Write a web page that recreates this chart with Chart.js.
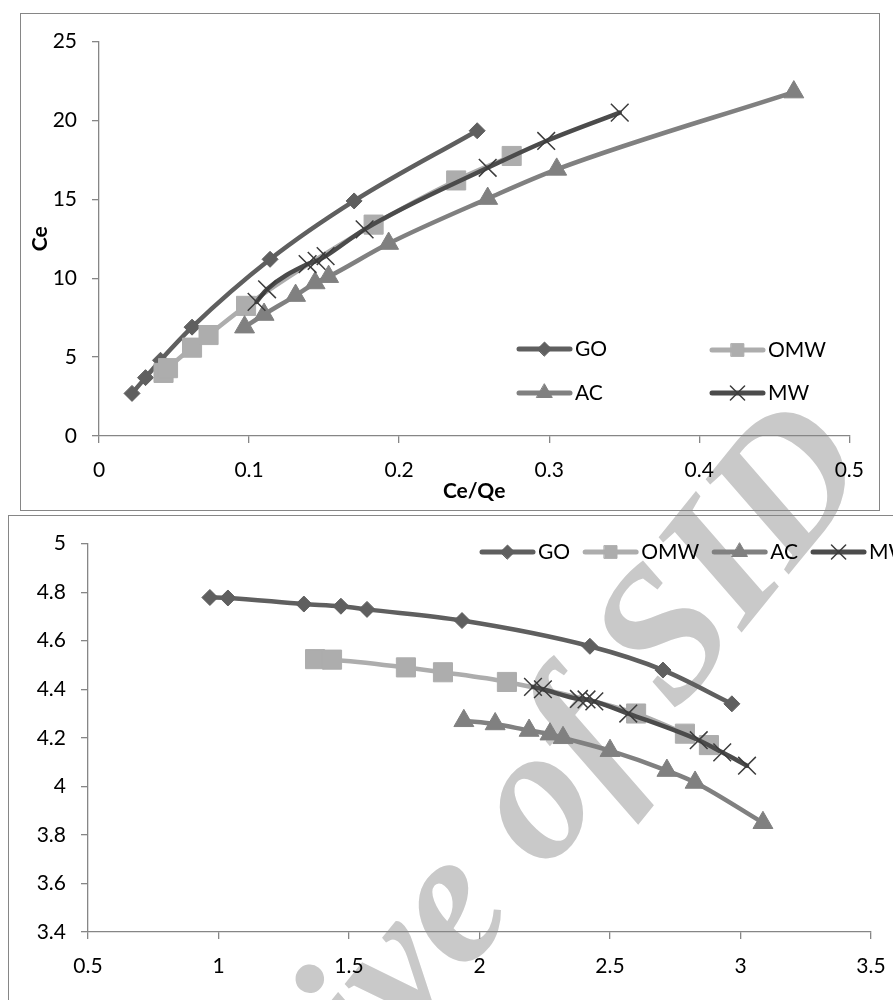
<!DOCTYPE html>
<html>
<head>
<meta charset="utf-8">
<title>Ce vs Ce/Qe</title>
<script src="https://cdn.jsdelivr.net/npm/chart.js@4.4.1/dist/chart.umd.min.js"></script>
<style>
  html, body { margin: 0; padding: 0; background: #fff; width: 893px; height: 1000px; overflow: hidden; position: relative; }
  .mark {
    position: absolute; left: 454px; top: 886px;
    transform: translate(-50%, -50%) rotate(-51deg);
    font: italic bold 190px "Liberation Serif", serif;
    color: #c9c9c9; white-space: nowrap; line-height: 1;
  }
  .box { position: absolute; border: 1px solid #868686; }
  #upperBox { left: 20px; top: 13px; }
  #lowerBox { left: 8px; top: 515px; border-right: none; border-bottom: none; }
  canvas { display: block; }
</style>
</head>
<body>
<div class="mark">Archive of SID</div>
<div class="box" id="upperBox"><canvas id="upper" width="858" height="496"></canvas></div>
<div class="box" id="lowerBox"><canvas id="lower" width="900" height="484"></canvas></div>
<script>
// series names, legend order
const seriesNames = ['GO', 'OMW', 'AC', 'MW'];

// upper panel: Ce/Qe (x) against Ce (y)
const goQ  = [0.022, 0.031, 0.041, 0.062, 0.114, 0.170, 0.252];
const goCe = [2.7, 3.7, 4.8, 6.9, 11.2, 14.9, 19.35];
const omwQ  = [0.043, 0.046, 0.062, 0.073, 0.098, 0.183, 0.238, 0.275];
const omwCe = [4.0, 4.3, 5.6, 6.4, 8.25, 13.4, 16.2, 17.75];
const acQ  = [0.097, 0.110, 0.131, 0.144, 0.153, 0.193, 0.259, 0.305, 0.463];
const acCe = [6.9, 7.7, 8.9, 9.7, 10.1, 12.2, 15.05, 16.9, 21.8];
const mwQ  = [0.105, 0.112, 0.139, 0.145, 0.151, 0.177, 0.259, 0.298, 0.347];
const mwCe = [8.5, 9.3, 10.9, 11.1, 11.4, 13.1, 17.0, 18.7, 20.5];

const upperXTicks = [0, 0.1, 0.2, 0.3, 0.4, 0.5];
const upperYTicks = [0, 5, 10, 15, 20, 25];

// lower panel
const goLx = [0.967, 1.036, 1.327, 1.469, 1.569, 1.933, 2.423, 2.703, 2.967];
const goLy = [4.778, 4.776, 4.751, 4.742, 4.729, 4.683, 4.577, 4.479, 4.34];
const omwLx = [1.37, 1.435, 1.718, 1.86, 2.105, 2.60, 2.787, 2.879];
const omwLy = [4.524, 4.522, 4.49, 4.47, 4.43, 4.30, 4.217, 4.17];
const acLx = [1.94, 2.06, 2.19, 2.27, 2.32, 2.50, 2.718, 2.826, 3.086];
const acLy = [4.27, 4.257, 4.23, 4.215, 4.20, 4.147, 4.065, 4.016, 3.85];
const mwLx = [2.205, 2.243, 2.381, 2.41, 2.44, 2.57, 2.84, 2.93, 3.025];
const mwLy = [4.41, 4.40, 4.36, 4.358, 4.35, 4.30, 4.19, 4.14, 4.085];

const lowerXTicks = [0.5, 1, 1.5, 2, 2.5, 3, 3.5];
const lowerYTicks = [3.4, 3.6, 3.8, 4, 4.2, 4.4, 4.6, 4.8, 5];

// look of each series
const styles = {
  GO:  { color: '#5f5f5f', pointStyle: 'rectRot',  radius: 8,    legendRadius: 7,   order: 3 },
  OMW: { color: '#adadad', pointStyle: 'rect',     radius: 13.5, legendRadius: 9,   order: 2 },
  AC:  { color: '#808080', pointStyle: 'triangle', radius: 11.5, legendRadius: 9,   order: 1 },
  MW:  { color: '#4b4b4b', pointStyle: 'crossRot', radius: 12.5, legendRadius: 10,  order: 0, pointColor: '#3c3c3c' }
};

Chart.defaults.font.family = 'Lato';
Chart.defaults.font.size = 21;
Chart.defaults.color = '#000';

const zip = (xs, ys) => xs.map((x, i) => ({ x: x, y: ys[i] }));

function series(name, xs, ys) {
  const s = styles[name];
  const isCross = s.pointStyle === 'crossRot';
  return {
    label: name,
    data: zip(xs, ys),
    showLine: true,
    borderColor: s.color,
    borderWidth: 4.5,
    borderCapStyle: 'round',
    borderJoinStyle: 'round',
    cubicInterpolationMode: 'monotone',
    pointStyle: s.pointStyle,
    pointRadius: s.radius,
    pointHoverRadius: s.radius,
    pointBackgroundColor: s.color,
    pointBorderColor: isCross ? s.pointColor : s.color,
    pointBorderWidth: isCross ? 1.5 : 1,
    order: s.order
  };
}

// legend drawn at fixed slots, with the same markers as the datasets
const slotLegend = {
  id: 'slotLegend',
  afterDraw(chart, args, opts) {
    const ctx = chart.ctx;
    const lineLen = 55;
    ctx.save();
    ctx.font = '21px Lato';
    ctx.textBaseline = 'middle';
    ctx.textAlign = 'left';
    let cursor = opts.startX;
    seriesNames.forEach((name, i) => {
      const s = styles[name];
      let x, y;
      if (opts.slots) { x = opts.slots[i][0]; y = opts.slots[i][1]; }
      else { x = cursor; y = opts.y; }
      ctx.strokeStyle = s.color;
      ctx.lineWidth = 5;
      ctx.lineCap = 'round';
      ctx.beginPath();
      ctx.moveTo(x + 2, y);
      ctx.lineTo(x + lineLen - 2, y);
      ctx.stroke();
      const isCross = s.pointStyle === 'crossRot';
      ctx.fillStyle = s.color;
      ctx.strokeStyle = isCross ? s.pointColor : s.color;
      ctx.lineWidth = isCross ? 1.5 : 1;
      Chart.helpers.drawPoint(ctx, {
        pointStyle: s.pointStyle, radius: s.legendRadius, rotation: 0, borderWidth: ctx.lineWidth
      }, x + lineLen / 2, y);
      ctx.fillStyle = '#000';
      ctx.fillText(name, x + lineLen + 3, y);
      cursor = x + lineLen + 3 + ctx.measureText(name).width + 13;
    });
    ctx.restore();
  }
};

function axis(ticks, min, max, extra) {
  return Object.assign({
    type: 'linear',
    min: min,
    max: max,
    afterBuildTicks: (scale) => { scale.ticks = ticks.map(v => ({ value: v })); },
    border: { color: '#868686', width: 1.3 },
    grid: { drawOnChartArea: false, drawTicks: true, tickLength: 7, color: '#868686', lineWidth: 1.3 },
    ticks: { callback: (v) => String(+Number(v).toFixed(2)), padding: 15, maxRotation: 0, autoSkip: false }
  }, extra);
}

new Chart(document.getElementById('upper'), {
  type: 'scatter',
  data: {
    datasets: [
      series('GO', goQ, goCe),
      series('OMW', omwQ, omwCe),
      series('AC', acQ, acCe),
      series('MW', mwQ, mwCe)
    ]
  },
  options: {
    responsive: false,
    animation: false,
    devicePixelRatio: 1,
    layout: { padding: { top: 25, right: 20, left: 0, bottom: 0 } },
    plugins: {
      legend: { display: false },
      tooltip: { enabled: false },
      slotLegend: { slots: [[496, 335], [689, 336], [496, 379], [689, 379]] }
    },
    scales: {
      x: axis(upperXTicks, 0, 0.5, {
        title: { display: true, text: 'Ce/Qe', font: { weight: 'bold', size: 21 }, padding: { top: 0, bottom: 6 } },
        afterFit: (scale) => { scale.height = 74; }
      }),
      y: axis(upperYTicks, 0, 25, {
        title: { display: true, text: 'Ce', font: { weight: 'bold', size: 21 }, padding: { top: 7, bottom: 0 } },
        afterFit: (scale) => { scale.width = 78; }
      })
    }
  },
  plugins: [slotLegend]
});

new Chart(document.getElementById('lower'), {
  type: 'scatter',
  data: {
    datasets: [
      series('GO', goLx, goLy),
      series('OMW', omwLx, omwLy),
      series('AC', acLx, acLy),
      series('MW', mwLx, mwLy)
    ]
  },
  options: {
    responsive: false,
    animation: false,
    devicePixelRatio: 1,
    layout: { padding: { top: 26, right: 38, left: 0, bottom: 0 } },
    plugins: {
      legend: { display: false },
      tooltip: { enabled: false },
      slotLegend: { startX: 471, y: 36 }
    },
    scales: {
      x: axis(lowerXTicks, 0.5, 3.5, { afterFit: (scale) => { scale.height = 68; } }),
      y: axis(lowerYTicks, 3.4, 5, { afterFit: (scale) => { scale.width = 79; } })
    }
  },
  plugins: [slotLegend]
});
</script>
</body>
</html>
